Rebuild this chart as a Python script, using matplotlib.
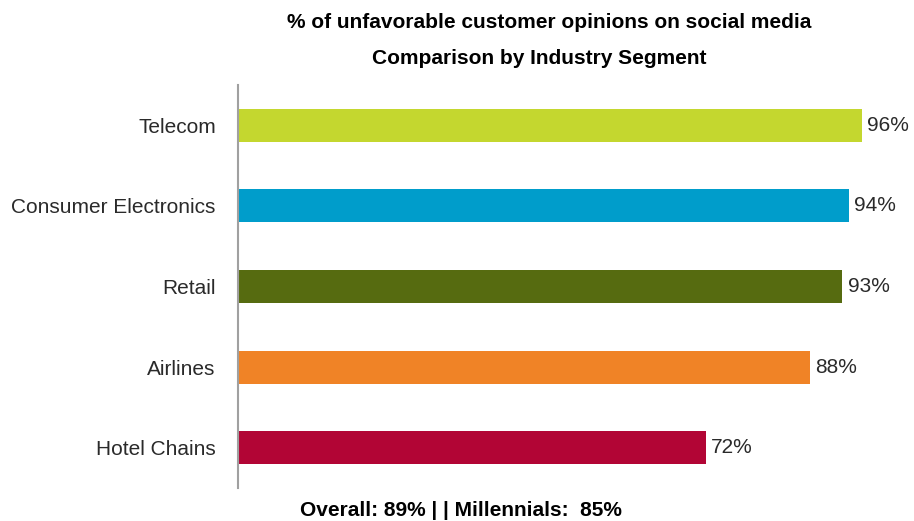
import matplotlib.pyplot as plt

plt.rcParams['font.family'] = ['Liberation Sans', 'DejaVu Sans']

segments = ['Telecom', 'Consumer Electronics', 'Retail', 'Airlines', 'Hotel Chains']
pct = [96, 94, 93, 88, 72]
colors = ['#C4D72F', '#009DCB', '#566B10', '#F08326', '#B20535']

fig = plt.figure(figsize=(9.14, 5.21), dpi=100)
ax = fig.add_axes([0.2604, 0.0633, 0.711, 0.7736])

y = list(range(len(segments)))
ax.barh(y, pct, height=0.41, color=colors)
ax.set_ylim(len(segments) - 0.5, -0.5)
ax.set_xlim(0, 100)

for yi, v in zip(y, pct):
    ax.text(v + 0.8, yi, f'{v}%', va='center', ha='left', fontsize=15, color='#2a2a2a')

ax.set_yticks(y)
ax.set_yticklabels(segments, fontsize=15, color='#2a2a2a')
ax.tick_params(axis='y', length=0, pad=16)
ax.set_xticks([])
for s in ['top', 'right', 'bottom']:
    ax.spines[s].set_visible(False)
ax.spines['left'].set_color('#a0a0a0')
ax.spines['left'].set_linewidth(1.5)

fig.text(0.601, 1 - 22 / 521, '% of unfavorable customer opinions on social media',
         ha='center', va='center', fontsize=15, fontweight='bold')
fig.text(0.590, 1 - 58 / 521, 'Comparison by Industry Segment',
         ha='center', va='center', fontsize=15, fontweight='bold')
fig.text(0.504, 1 - 511 / 521, 'Overall: 89% | | Millennials:  85%',
         ha='center', va='center', fontsize=15, fontweight='bold')

fig.savefig('out.png', dpi=100)
